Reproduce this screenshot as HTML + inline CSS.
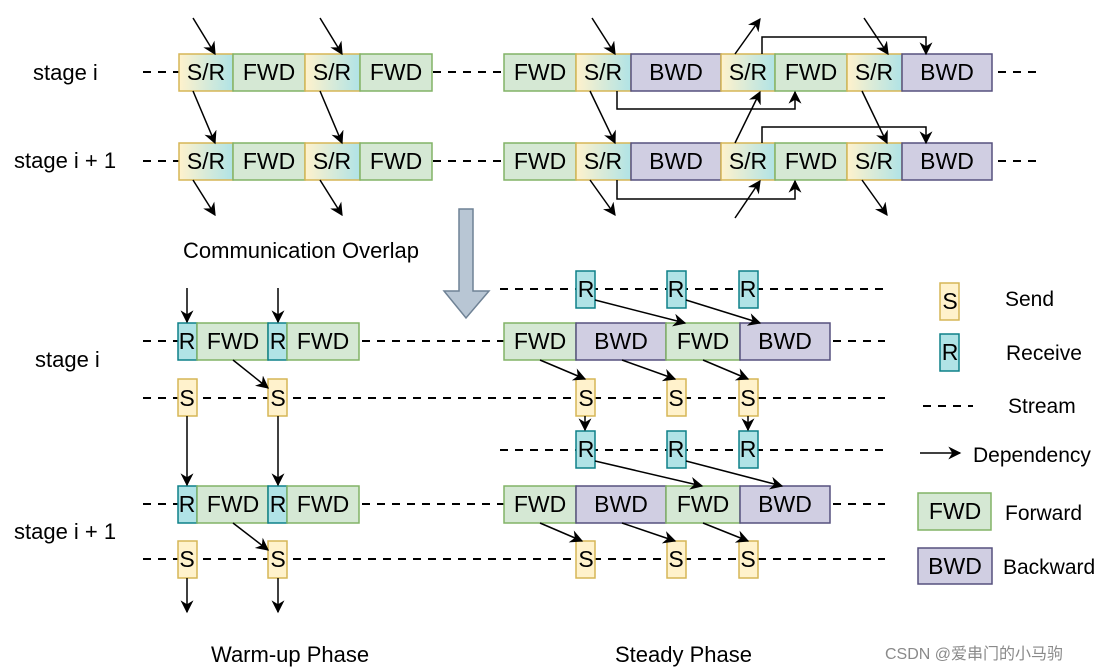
<!DOCTYPE html>
<html><head><meta charset="utf-8"><style>
html,body{margin:0;padding:0;background:#fff;}
svg{display:block;}
text{font-family:"Liberation Sans",Arial,sans-serif;fill:#000;}
</style></head><body>
<svg width="1110" height="671" viewBox="0 0 1110 671" xmlns="http://www.w3.org/2000/svg">
<defs>
<linearGradient id="sr" x1="0" x2="1" y1="0" y2="0"><stop offset="0" stop-color="#fff2cc"/><stop offset="1" stop-color="#b0e3e6"/></linearGradient>
<marker id="ah" viewBox="0 0 10 10" refX="9" refY="5" markerWidth="13" markerHeight="13" markerUnits="userSpaceOnUse" orient="auto"><path d="M0,0 L10,5 L0,10 L3,5 z" fill="#000"/></marker>
</defs>

<g stroke="#000" stroke-width="2" stroke-dasharray="8,7" fill="none">
<line x1="143" y1="72" x2="179" y2="72"/><line x1="433" y1="72" x2="504" y2="72"/><line x1="998" y1="72" x2="1040" y2="72"/>
<line x1="143" y1="161" x2="179" y2="161"/><line x1="433" y1="161" x2="504" y2="161"/><line x1="998" y1="161" x2="1040" y2="161"/>
<line x1="143" y1="341" x2="178" y2="341"/><line x1="362" y1="341" x2="504" y2="341"/><line x1="833" y1="341" x2="885" y2="341"/>
<line x1="143" y1="398" x2="885" y2="398"/>
<line x1="143" y1="504" x2="178" y2="504"/><line x1="362" y1="504" x2="504" y2="504"/><line x1="833" y1="504" x2="885" y2="504"/>
<line x1="143" y1="559" x2="885" y2="559"/>
<line x1="500" y1="289" x2="885" y2="289"/>
<line x1="500" y1="450" x2="885" y2="450"/>
<line x1="923" y1="406" x2="973" y2="406"/>
</g>

<g font-size="23" text-anchor="middle">
<g>
<rect x="179" y="54" width="54" height="37" fill="url(#sr)" stroke="#d6b656" stroke-width="1.5"/><text x="206" y="80">S/R</text>
<rect x="233" y="54" width="72" height="37" fill="#d5e8d4" stroke="#82b366" stroke-width="1.5"/><text x="269" y="80">FWD</text>
<rect x="305" y="54" width="55" height="37" fill="url(#sr)" stroke="#d6b656" stroke-width="1.5"/><text x="332" y="80">S/R</text>
<rect x="360" y="54" width="72" height="37" fill="#d5e8d4" stroke="#82b366" stroke-width="1.5"/><text x="396" y="80">FWD</text>
</g>
<g transform="translate(0,89)">
<rect x="179" y="54" width="54" height="37" fill="url(#sr)" stroke="#d6b656" stroke-width="1.5"/><text x="206" y="80">S/R</text>
<rect x="233" y="54" width="72" height="37" fill="#d5e8d4" stroke="#82b366" stroke-width="1.5"/><text x="269" y="80">FWD</text>
<rect x="305" y="54" width="55" height="37" fill="url(#sr)" stroke="#d6b656" stroke-width="1.5"/><text x="332" y="80">S/R</text>
<rect x="360" y="54" width="72" height="37" fill="#d5e8d4" stroke="#82b366" stroke-width="1.5"/><text x="396" y="80">FWD</text>
</g>
<g>
<rect x="504" y="54" width="72" height="37" fill="#d5e8d4" stroke="#82b366" stroke-width="1.5"/><text x="540" y="80">FWD</text>
<rect x="576" y="54" width="55" height="37" fill="url(#sr)" stroke="#d6b656" stroke-width="1.5"/><text x="603" y="80">S/R</text>
<rect x="631" y="54" width="90" height="37" fill="#d0cee2" stroke="#56517e" stroke-width="1.5"/><text x="676" y="80">BWD</text>
<rect x="721" y="54" width="54" height="37" fill="url(#sr)" stroke="#d6b656" stroke-width="1.5"/><text x="748" y="80">S/R</text>
<rect x="775" y="54" width="72" height="37" fill="#d5e8d4" stroke="#82b366" stroke-width="1.5"/><text x="811" y="80">FWD</text>
<rect x="847" y="54" width="55" height="37" fill="url(#sr)" stroke="#d6b656" stroke-width="1.5"/><text x="874" y="80">S/R</text>
<rect x="902" y="54" width="90" height="37" fill="#d0cee2" stroke="#56517e" stroke-width="1.5"/><text x="947" y="80">BWD</text>
</g>
<g transform="translate(0,89)">
<rect x="504" y="54" width="72" height="37" fill="#d5e8d4" stroke="#82b366" stroke-width="1.5"/><text x="540" y="80">FWD</text>
<rect x="576" y="54" width="55" height="37" fill="url(#sr)" stroke="#d6b656" stroke-width="1.5"/><text x="603" y="80">S/R</text>
<rect x="631" y="54" width="90" height="37" fill="#d0cee2" stroke="#56517e" stroke-width="1.5"/><text x="676" y="80">BWD</text>
<rect x="721" y="54" width="54" height="37" fill="url(#sr)" stroke="#d6b656" stroke-width="1.5"/><text x="748" y="80">S/R</text>
<rect x="775" y="54" width="72" height="37" fill="#d5e8d4" stroke="#82b366" stroke-width="1.5"/><text x="811" y="80">FWD</text>
<rect x="847" y="54" width="55" height="37" fill="url(#sr)" stroke="#d6b656" stroke-width="1.5"/><text x="874" y="80">S/R</text>
<rect x="902" y="54" width="90" height="37" fill="#d0cee2" stroke="#56517e" stroke-width="1.5"/><text x="947" y="80">BWD</text>
</g>

<g>
<rect x="178" y="323" width="19" height="37" fill="#b0e3e6" stroke="#0e8088" stroke-width="1.5"/><text x="187" y="349">R</text>
<rect x="197" y="323" width="71" height="37" fill="#d5e8d4" stroke="#82b366" stroke-width="1.5"/><text x="233" y="349">FWD</text>
<rect x="268" y="323" width="19" height="37" fill="#b0e3e6" stroke="#0e8088" stroke-width="1.5"/><text x="278" y="349">R</text>
<rect x="287" y="323" width="72" height="37" fill="#d5e8d4" stroke="#82b366" stroke-width="1.5"/><text x="323" y="349">FWD</text>
<rect x="178" y="379" width="19" height="37" fill="#fff2cc" stroke="#d6b656" stroke-width="1.5"/><text x="187" y="406">S</text>
<rect x="268" y="379" width="19" height="37" fill="#fff2cc" stroke="#d6b656" stroke-width="1.5"/><text x="278" y="406">S</text>
</g>
<g transform="translate(0,163)">
<rect x="178" y="323" width="19" height="37" fill="#b0e3e6" stroke="#0e8088" stroke-width="1.5"/><text x="187" y="349">R</text>
<rect x="197" y="323" width="71" height="37" fill="#d5e8d4" stroke="#82b366" stroke-width="1.5"/><text x="233" y="349">FWD</text>
<rect x="268" y="323" width="19" height="37" fill="#b0e3e6" stroke="#0e8088" stroke-width="1.5"/><text x="278" y="349">R</text>
<rect x="287" y="323" width="72" height="37" fill="#d5e8d4" stroke="#82b366" stroke-width="1.5"/><text x="323" y="349">FWD</text>
</g>
<rect x="178" y="541" width="19" height="37" fill="#fff2cc" stroke="#d6b656" stroke-width="1.5"/><text x="187" y="567">S</text>
<rect x="268" y="541" width="19" height="37" fill="#fff2cc" stroke="#d6b656" stroke-width="1.5"/><text x="278" y="567">S</text>

<g>
<rect x="576" y="271" width="19" height="37" fill="#b0e3e6" stroke="#0e8088" stroke-width="1.5"/><text x="586" y="297">R</text>
<rect x="667" y="271" width="19" height="37" fill="#b0e3e6" stroke="#0e8088" stroke-width="1.5"/><text x="676" y="297">R</text>
<rect x="739" y="271" width="19" height="37" fill="#b0e3e6" stroke="#0e8088" stroke-width="1.5"/><text x="748" y="297">R</text>
<rect x="504" y="323" width="72" height="37" fill="#d5e8d4" stroke="#82b366" stroke-width="1.5"/><text x="540" y="349">FWD</text>
<rect x="576" y="323" width="90" height="37" fill="#d0cee2" stroke="#56517e" stroke-width="1.5"/><text x="621" y="349">BWD</text>
<rect x="666" y="323" width="74" height="37" fill="#d5e8d4" stroke="#82b366" stroke-width="1.5"/><text x="703" y="349">FWD</text>
<rect x="740" y="323" width="90" height="37" fill="#d0cee2" stroke="#56517e" stroke-width="1.5"/><text x="785" y="349">BWD</text>
<rect x="576" y="379" width="19" height="37" fill="#fff2cc" stroke="#d6b656" stroke-width="1.5"/><text x="586" y="406">S</text>
<rect x="667" y="379" width="19" height="37" fill="#fff2cc" stroke="#d6b656" stroke-width="1.5"/><text x="676" y="406">S</text>
<rect x="739" y="379" width="19" height="37" fill="#fff2cc" stroke="#d6b656" stroke-width="1.5"/><text x="748" y="406">S</text>
</g>
<g transform="translate(0,162)">
<rect x="576" y="269" width="19" height="37" fill="#b0e3e6" stroke="#0e8088" stroke-width="1.5"/><text x="586" y="295">R</text>
<rect x="667" y="269" width="19" height="37" fill="#b0e3e6" stroke="#0e8088" stroke-width="1.5"/><text x="676" y="295">R</text>
<rect x="739" y="269" width="19" height="37" fill="#b0e3e6" stroke="#0e8088" stroke-width="1.5"/><text x="748" y="295">R</text>
<rect x="504" y="324" width="72" height="37" fill="#d5e8d4" stroke="#82b366" stroke-width="1.5"/><text x="540" y="350">FWD</text>
<rect x="576" y="324" width="90" height="37" fill="#d0cee2" stroke="#56517e" stroke-width="1.5"/><text x="621" y="350">BWD</text>
<rect x="666" y="324" width="74" height="37" fill="#d5e8d4" stroke="#82b366" stroke-width="1.5"/><text x="703" y="350">FWD</text>
<rect x="740" y="324" width="90" height="37" fill="#d0cee2" stroke="#56517e" stroke-width="1.5"/><text x="785" y="350">BWD</text>
<rect x="576" y="379" width="19" height="37" fill="#fff2cc" stroke="#d6b656" stroke-width="1.5"/><text x="586" y="405">S</text>
<rect x="667" y="379" width="19" height="37" fill="#fff2cc" stroke="#d6b656" stroke-width="1.5"/><text x="676" y="405">S</text>
<rect x="739" y="379" width="19" height="37" fill="#fff2cc" stroke="#d6b656" stroke-width="1.5"/><text x="748" y="405">S</text>
</g>

<rect x="940" y="283" width="19" height="37" fill="#fff2cc" stroke="#d6b656" stroke-width="1.5"/><text x="950" y="309">S</text>
<rect x="940" y="334" width="19" height="37" fill="#b0e3e6" stroke="#0e8088" stroke-width="1.5"/><text x="950" y="360">R</text>
<rect x="918" y="493" width="73" height="37" fill="#d5e8d4" stroke="#82b366" stroke-width="1.5"/><text x="955" y="519">FWD</text>
<rect x="918" y="548" width="74" height="36" fill="#d0cee2" stroke="#56517e" stroke-width="1.5"/><text x="955" y="574">BWD</text>
</g>

<g stroke="#000" stroke-width="1.5" fill="none" marker-end="url(#ah)">
<line x1="193" y1="18" x2="215" y2="54"/><line x1="320" y1="18" x2="342" y2="54"/>
<line x1="193" y1="91" x2="215" y2="143"/><line x1="320" y1="91" x2="342" y2="143"/>
<line x1="193" y1="180" x2="215" y2="215"/><line x1="320" y1="180" x2="342" y2="215"/>
<line x1="592" y1="18" x2="615" y2="54"/><line x1="590" y1="91" x2="615" y2="143"/><line x1="590" y1="180" x2="615" y2="215"/>
<line x1="735" y1="54" x2="760" y2="19"/><line x1="735" y1="143" x2="760" y2="92"/><line x1="735" y1="218" x2="760" y2="181"/>
<line x1="864" y1="18" x2="888" y2="54"/><line x1="862" y1="91" x2="887" y2="143"/><line x1="862" y1="180" x2="887" y2="215"/>
<polyline points="617,91 617,109 795,109 795,92"/>
<polyline points="617,180 617,199 795,199 795,181"/>
<polyline points="762,54 762,37 926,37 926,54"/>
<polyline points="762,143 762,127 926,127 926,143"/>
<line x1="187" y1="288" x2="187" y2="322"/><line x1="278" y1="288" x2="278" y2="322"/>
<line x1="233" y1="360" x2="268" y2="388"/><line x1="233" y1="523" x2="268" y2="550"/>
<line x1="187" y1="416" x2="187" y2="485"/><line x1="278" y1="416" x2="278" y2="485"/>
<line x1="187" y1="578" x2="187" y2="612"/><line x1="278" y1="578" x2="278" y2="612"/>
<line x1="595" y1="300" x2="685" y2="323"/><line x1="686" y1="300" x2="760" y2="323"/>
<line x1="540" y1="360" x2="585" y2="379"/><line x1="622" y1="360" x2="675" y2="379"/><line x1="703" y1="360" x2="748" y2="379"/>
<line x1="585" y1="416" x2="585" y2="430"/><line x1="748" y1="416" x2="748" y2="430"/>
<line x1="595" y1="461" x2="702" y2="486"/><line x1="686" y1="461" x2="782" y2="486"/>
<line x1="540" y1="523" x2="582" y2="541"/><line x1="622" y1="523" x2="675" y2="541"/><line x1="703" y1="523" x2="748" y2="541"/>
<line x1="920" y1="453" x2="960" y2="453"/>
</g>

<path d="M459,209 L473,209 L473,291 L489,291 L466,318 L444,291 L459,291 Z" fill="#b8c6d4" stroke="#6f8295" stroke-width="1.5"/>

<g font-size="22">
<text x="33" y="80">stage i</text>
<text x="14" y="168">stage i + 1</text>
<text x="183" y="258">Communication Overlap</text>
<text x="35" y="367">stage i</text>
<text x="14" y="539">stage i + 1</text>
<text x="211" y="662">Warm-up Phase</text>
<text x="615" y="662">Steady Phase</text>
</g>
<g font-size="21">
<text x="1005" y="306">Send</text>
<text x="1006" y="360">Receive</text>
<text x="1008" y="413">Stream</text>
<text x="973" y="462">Dependency</text>
<text x="1005" y="520">Forward</text>
<text x="1003" y="574">Backward</text>
</g>
<text x="885" y="659" font-size="16" style="fill:#8a8a8a;font-family:'Liberation Sans','Noto Sans CJK SC',sans-serif">CSDN @爱串门的小马驹</text>
</svg>
</body></html>
